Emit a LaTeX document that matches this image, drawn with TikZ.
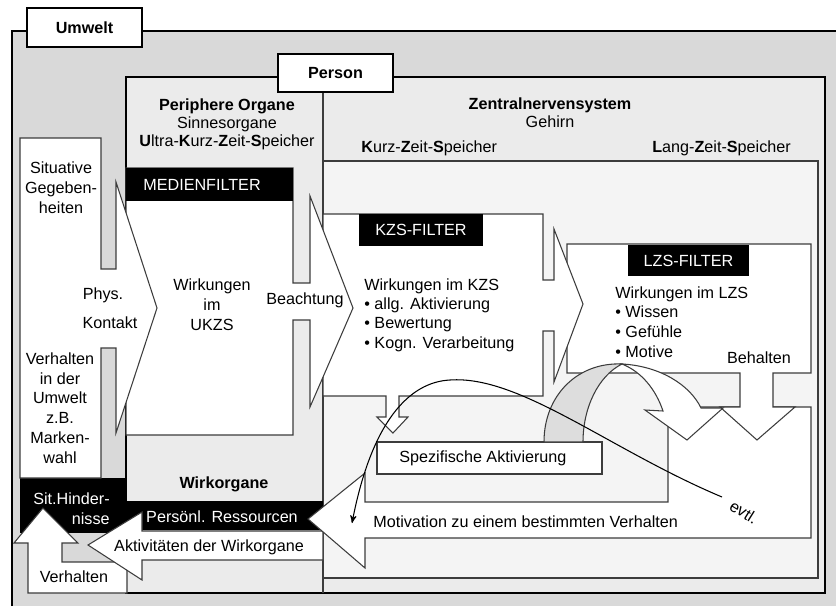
\documentclass[tikz,border=0pt]{standalone}
\usepackage{fontspec}
\setmainfont{Liberation Sans}
\usetikzlibrary{arrows}
\definecolor{umweltgray}{RGB}{217,217,217}
\definecolor{persongray}{RGB}{235,235,235}
\definecolor{znsgray}{RGB}{244,244,244}
\definecolor{ribbongray}{RGB}{221,221,221}
\definecolor{linegray}{RGB}{60,60,60}
\tikzset{
>=stealth', % small filled arrow head for the evtl. line
every node/.style={font=\fontsize{9.2}{11.3}\selectfont, inner sep=0pt}, % one text size everywhere
whitebox/.style={draw=linegray, fill=white, line width=0.6pt}, % boxes and block arrows
tabbox/.style={draw=black, fill=white, line width=1.3pt}, % the Umwelt / Person tabs
filterbar/.style={fill=black}, % black filter labels
inverse/.style={text=white}, % text on black
}

\begin{document}
\begin{tikzpicture}[x=0.02cm, y=-0.02cm]
  \useasboundingbox (0,0) rectangle (836,606);
  \fill[white] (0,0) rectangle (836,606);
  % Umwelt
  \fill[umweltgray] (12,31) rectangle (836,606);
  \draw[line width=1pt] (12,606) -- (12,31) -- (836,31);
  \draw[tabbox] (27,8) rectangle (142,47);
  \node (umwelt) at (84.5,28) {\textbf{Umwelt}};
  % Person
  \draw[fill=persongray, line width=0.9pt] (126,77) rectangle (825,593);
  \draw[linegray, line width=0.6pt] (323,92) -- (323,593);
  \draw[fill=znsgray, draw=linegray, line width=0.6pt] (323,161) rectangle (818,578);
  \draw[tabbox] (278,54) rectangle (393,92);
  \node (person) at (335.5,73) {\textbf{Person}};
  \node[align=center] (peri) at (227,124) {\textbf{Periphere Organe}\\[-1pt]Sinnesorgane\\[-1pt]\textbf{U}ltra-\textbf{K}urz-\textbf{Z}eit-\textbf{S}peicher};
  \node[align=center] (zns) at (550,113) {\textbf{Zentralnervensystem}\\[-1pt]Gehirn};
  \node[anchor=west] (kzsname) at (361,148) {\textbf{K}urz-\textbf{Z}eit-\textbf{S}peicher};
  \node[anchor=west] (lzsname) at (652,148) {\textbf{L}ang-\textbf{Z}eit-\textbf{S}peicher};

  % bottom: Wirkorgane, Verhalten
  \fill[filterbar] (127,501) rectangle (323,530);
  \fill[filterbar] (20,478) rectangle (127,533);
  \draw[whitebox] (28,593) -- (28,543) -- (14,543) -- (43,508) -- (78,543) -- (62,543)
    -- (62,562) -- (127,562) -- (127,593) -- cycle;
  \draw[whitebox] (323,531) -- (142,531) -- (142,512) -- (88,545) -- (142,580)
    -- (142,560) -- (323,560) -- cycle;
  \draw[whitebox] (668,407) -- (811,407) -- (811,538) -- (365,538) -- (365,568)
    -- (308,519) -- (365,473) -- (365,502) -- (668,502) -- cycle;
  \draw[whitebox] (377,442) rectangle (602,474);

  % LZS with Behalten
  \draw[whitebox] (567,244) -- (811,244) -- (811,373) -- (773,373) -- (773,407)
    -- (795,407) -- (757,440) -- (720,407) -- (740,407) -- (740,373) -- (567,373) -- cycle;
  \fill[filterbar] (628,245) rectangle (749,276);
  % twisted arrow from Spezifische Aktivierung
  \filldraw[fill=ribbongray, draw=linegray, line width=0.6pt] (544,442)
    .. controls (544,395) and (578,362) .. (622,364)
    .. controls (598,376) and (583,408) .. (583,442) -- cycle;
  \draw[whitebox] (622,364) .. controls (660,366) and (690,385) .. (701,408)
    -- (723,408) -- (687,440) -- (645,410) -- (663,411)
    .. controls (656,390) and (642,372) .. (622,364) -- cycle;

  % KZS
  \draw[whitebox] (323,214) -- (543,214) -- (543,280) -- (554,280) -- (554,229)
    -- (583,304) -- (554,382) -- (554,331) -- (543,331) -- (543,396)
    -- (399,396) -- (399,417) -- (408,417) -- (393,433) -- (377,417) -- (386,417)
    -- (386,396) -- (323,396) -- cycle;
  \fill[filterbar] (359,214) rectangle (483,246);
  % UKZS
  \draw[whitebox] (126,168) -- (293,168) -- (293,283) -- (310,283) -- (310,196)
    -- (353,308) -- (310,407) -- (310,320) -- (293,320) -- (293,435) -- (126,435) -- cycle;
  \fill[filterbar] (126,168) rectangle (293,201);
  % Umwelt input
  \draw[whitebox] (20,138) -- (101,138) -- (101,269) -- (116,269) -- (116,182)
    -- (157,308) -- (116,433) -- (116,348) -- (101,348) -- (101,478) -- (20,478) -- cycle;

  % evtl.
  \coordinate (evtlstart) at (722,497);
  \coordinate (evtlend) at (352,523);
  \draw[->, line width=0.6pt] (evtlstart) .. controls (610,450) and (520,375) .. (450,380)
    .. controls (410,382) and (372,420) .. (evtlend);
  \node[rotate=-32] (evtl) at (744,512) {evtl.};

  % texts
  \node[align=center] (situativ) at (61,188) {Situative\\Gegeben-\\heiten};
  \node[align=center] (verhumwelt) at (60,408) {Verhalten\\in der\\Umwelt\\z.B.\\Marken-\\wahl};
  \node (phys) at (103,295) {Phys.};
  \node (kontakt) at (110,323) {Kontakt};
  \node[align=center] (ukzs) at (212,305) {Wirkungen\\im\\UKZS};
  \node (beachtung) at (305,300) {Beachtung};
  \node[inverse, anchor=west] (medienfilter) at (143,185) {MEDIENFILTER};
  \node[inverse] (kzsfilter) at (421,230) {KZS-FILTER};
  \node[align=left, anchor=west, font=\fontsize{9.2}{11}\selectfont] (kzstext) at (364,315)
    {Wirkungen im KZS\\• allg. Aktivierung\\• Bewertung\\• Kogn. Verarbeitung};
  \node[inverse] (lzsfilter) at (688.5,261) {LZS-FILTER};
  \node[align=left, anchor=west] (lzstext) at (615,322)
    {Wirkungen im LZS\\• Wissen\\• Gefühle\\• Motive};
  \node (behalten) at (759,358) {Behalten};
  \node[anchor=west] (spezakt) at (399,458) {Spezifische Aktivierung};
  \node[anchor=west] (motivation) at (373,522) {Motivation zu einem bestimmten Verhalten};
  \node (wirkorgane) at (224,484) {\textbf{Wirkorgane}};
  \node[inverse] (ressourcen) at (222,517) {Persönl. Ressourcen};
  \node[inverse, align=right, anchor=east] (hindernisse) at (110,509) {Sit.Hinder-\\nisse};
  \node (aktivitaeten) at (209,547) {Aktivitäten der Wirkorgane};
  \node (verhalten) at (74,577) {Verhalten};
\end{tikzpicture}
\end{document}
